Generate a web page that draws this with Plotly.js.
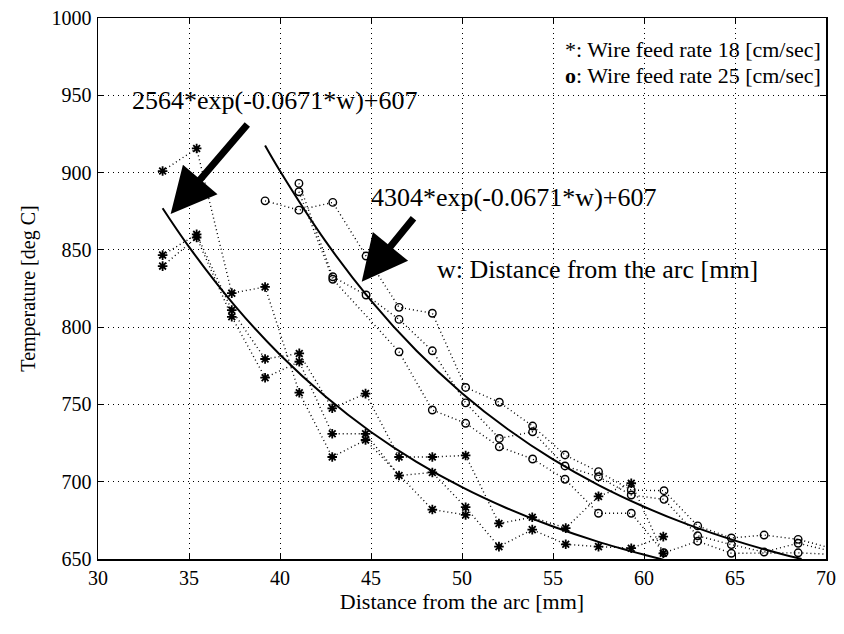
<!DOCTYPE html>
<html>
<head>
<meta charset="utf-8">
<script src="https://cdn.plot.ly/plotly-3.0.1.min.js"></script>
<style>
  html, body { margin: 0; padding: 0; background: #fff; }
  #chart { width: 844px; height: 634px; }
</style>
</head>
<body>
<div id="chart"></div>
<script>
// ---- Data ----
// Wire feed rate 18 cm/sec ('*' markers), measurement positions [mm]
const x18 = [33.55, 35.42, 37.35, 39.18, 41.06, 42.87, 44.7, 46.54, 48.37, 50.2, 52.03, 53.86, 55.7, 57.5, 59.3, 61.06];
const run18a = [901, 915.6, 822, 826, 757.6, 716, 727, null, 682, 678.5, null, null, null, null, null, null];
const run18b = [846.6, 860, 811, 779.4, 783, 747.5, 757, 716, 716, 717, 673, 677, 670, 690.5, 699, 653.7];
const run18c = [839.5, 858, 806.7, 767.3, 777.6, 731, 731, 704, 706, 683.5, 658, 669, 659.5, 658, 657, 664.5];

// Wire feed rate 25 cm/sec ('o' markers)
const x25 = [39.18, 41.04, 42.9, 44.73, 46.54, 48.37, 50.2, 52.05, 53.88, 55.66, 57.5, 59.3, 61.1, 62.95, 64.8, 66.6, 68.47, 70.3];
const run25a = [881.7, 875.7, 880.7, 846, 812.8, 809, 761, 751.4, 736, 717.3, 706.5, 694.6, 694.2, 671.4, 663.6, 665.5, 662.7, 657];
const run25b = [null, 893, 832.6, 820.8, 805, 784.7, 751, 728, 732.3, 710.2, 703.2, 691.4, 688.6, 665, 659.3, 654.5, 660.2, 655];
const run25c = [null, 887.6, 831, null, 784, 746.4, 737.8, 722.6, 714.7, 701.6, 679.6, 679.6, 654, 661.5, 653.7, null, 654, 653];

// Fitted curves as drawn
const fitLowX = [33.55, 35, 37.5, 40, 42.5, 45, 47.5, 50, 52.5, 55, 57.5, 60, 61.06];
const fitLowY = [876.9, 851.9, 814.1, 782.1, 755.1, 732.2, 712.9, 696.5, 682.7, 671.0, 661.1, 652.8, 649.6];
const fitHighX = [39.18, 40, 42.5, 45, 47.5, 50, 52.5, 55, 57.5, 60, 62.5, 65, 67.5, 68.66];
const fitHighY = [917.5, 901.0, 855.6, 817.2, 784.7, 757.3, 734.1, 714.4, 697.8, 683.8, 671.9, 661.9, 653.4, 650.0];

// Texts
const xTitle = "Distance from the arc [mm]";
const yTitle = "Temperature [deg C]";
const fitLowLabel = "2564*exp(-0.0671*w)+607";
const fitHighLabel = "4304*exp(-0.0671*w)+607";
const wLabel = "w: Distance from the arc [mm]";
const legend18 = "*: Wire feed rate 18 [cm/sec]";
const legend25 = "<b>o</b>: Wire feed rate 25 [cm/sec]";

// ---- Styling ----
const FONT = "Liberation Serif, Times New Roman, serif";
const dotted = { color: "#000", width: 1.4, dash: "1px,3px" };
const starMarker = { symbol: "asterisk-open", size: 8, color: "#000", line: { color: "#000", width: 1.8 } };
const circMarker = { symbol: "circle-open", size: 7.5, color: "#000", line: { color: "#000", width: 1.4 } };

function runTrace(x, y, marker) {
  return { x: x, y: y, type: "scatter", mode: "lines+markers", line: dotted, marker: marker,
           connectgaps: true, hoverinfo: "skip", showlegend: false };
}

const traces = [
  runTrace(x18, run18a, starMarker),
  runTrace(x18, run18b, starMarker),
  runTrace(x18, run18c, starMarker),
  runTrace(x25, run25a, circMarker),
  runTrace(x25, run25b, circMarker),
  runTrace(x25, run25c, circMarker),
  { x: fitLowX, y: fitLowY, type: "scatter", mode: "lines", line: { color: "#000", width: 2, shape: "spline" }, showlegend: false, hoverinfo: "skip" },
  { x: fitHighX, y: fitHighY, type: "scatter", mode: "lines", line: { color: "#000", width: 2, shape: "spline" }, showlegend: false, hoverinfo: "skip" }
];

const axisCommon = {
  showline: true, linecolor: "#000", linewidth: 1.5, mirror: "ticks",
  ticks: "inside", ticklen: 6, tickcolor: "#000", tickwidth: 1,
  showgrid: true, gridcolor: "#000", gridwidth: 1, griddash: "1px,4px",
  zeroline: false, tickfont: { family: FONT, size: 20, color: "#000" }
};

const layout = {
  width: 844, height: 634,
  margin: { l: 98, r: 18, t: 18, b: 75 },
  paper_bgcolor: "#fff", plot_bgcolor: "#fff",
  font: { family: FONT, color: "#000" },
  showlegend: false,
  xaxis: Object.assign({}, axisCommon, {
    range: [30, 70], dtick: 5, tick0: 30, ticklabelstandoff: 0,
    title: { text: xTitle, font: { family: FONT, size: 22, color: "#000" }, standoff: 6 }
  }),
  yaxis: Object.assign({}, axisCommon, {
    range: [650, 1000], dtick: 50, tick0: 650, ticklabelstandoff: 1,
    title: { text: yTitle, font: { family: FONT, size: 20, color: "#000" }, standoff: 10 }
  }),
  annotations: [
    { xref: "paper", yref: "paper", x: 0.2418, y: 0.8484, xanchor: "center", yanchor: "middle",
      text: fitLowLabel, showarrow: false, font: { family: FONT, size: 26, color: "#000" } },
    { xref: "paper", yref: "paper", x: 0.3723, y: 0.6673, xanchor: "left", yanchor: "middle",
      text: fitHighLabel, showarrow: false, font: { family: FONT, size: 26, color: "#000" } },
    { xref: "paper", yref: "paper", x: 0.4629, y: 0.5342, xanchor: "left", yanchor: "middle",
      text: wLabel, showarrow: false, font: { family: FONT, size: 26, color: "#000" } },
    { xref: "paper", yref: "paper", x: 0.6387, y: 0.9409, xanchor: "left", yanchor: "middle",
      text: legend18, showarrow: false, font: { family: FONT, size: 22, color: "#000" } },
    { xref: "paper", yref: "paper", x: 0.6387, y: 0.8946, xanchor: "left", yanchor: "middle",
      text: legend25, showarrow: false, font: { family: FONT, size: 22, color: "#000" } },
    // thick arrows pointing at the start of each fitted curve
    { xref: "x", yref: "y", x: 33.99, y: 873.2, ax: 78, ay: -91, text: "", showarrow: true,
      arrowhead: 2, arrowsize: 1.3, arrowwidth: 7, arrowcolor: "#000", standoff: 0 },
    { xref: "x", yref: "y", x: 44.49, y: 829.4, ax: 53, ay: -65, text: "", showarrow: true,
      arrowhead: 2, arrowsize: 1.3, arrowwidth: 7, arrowcolor: "#000", standoff: 0 }
  ]
};

Plotly.newPlot("chart", traces, layout, { displayModeBar: false, staticPlot: true });
</script>
</body>
</html>
